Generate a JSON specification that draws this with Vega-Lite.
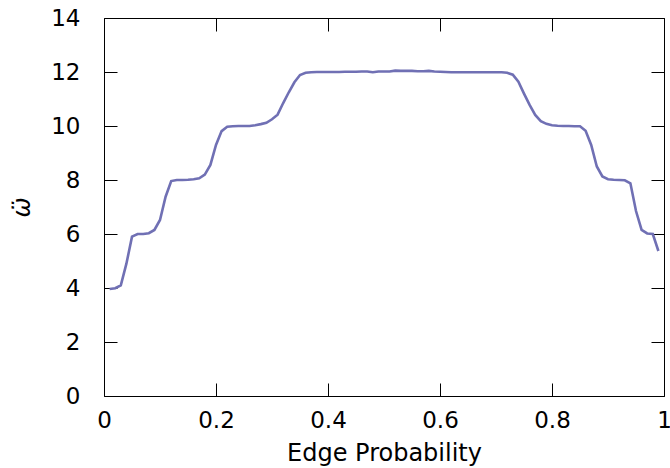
{
  "$schema": "https://vega.github.io/schema/vega-lite/v6.json",
  "width": 560,
  "height": 378,
  "autosize": "none",
  "padding": {"left": 104, "top": 18, "right": 6, "bottom": 72},
  "background": "white",
  "config": {
    "view": {"stroke": null},
    "axis": {
      "labelFont": "DejaVu Sans",
      "labelFontSize": 23,
      "labelColor": "black",
      "titleFont": "DejaVu Sans",
      "titleFontSize": 24,
      "titleFontWeight": "normal",
      "titleColor": "black",
      "domainColor": "black",
      "domainWidth": 1,
      "tickColor": "black",
      "tickWidth": 1,
      "tickSize": -13,
      "grid": false
    }
  },
  "data": {
    "values": [
      {"p": 0.01, "w": 3.96}, {"p": 0.02, "w": 3.99}, {"p": 0.03, "w": 4.1}, {"p": 0.04, "w": 4.9},
      {"p": 0.05, "w": 5.9}, {"p": 0.06, "w": 6.0}, {"p": 0.07, "w": 6.0}, {"p": 0.08, "w": 6.03},
      {"p": 0.09, "w": 6.15}, {"p": 0.10, "w": 6.52}, {"p": 0.11, "w": 7.38}, {"p": 0.12, "w": 7.96},
      {"p": 0.13, "w": 8.0}, {"p": 0.14, "w": 8.0}, {"p": 0.15, "w": 8.01}, {"p": 0.16, "w": 8.03},
      {"p": 0.17, "w": 8.06}, {"p": 0.18, "w": 8.2}, {"p": 0.19, "w": 8.56}, {"p": 0.20, "w": 9.3},
      {"p": 0.21, "w": 9.81}, {"p": 0.22, "w": 9.97}, {"p": 0.23, "w": 9.99}, {"p": 0.24, "w": 10.0},
      {"p": 0.25, "w": 10.0}, {"p": 0.26, "w": 10.0}, {"p": 0.27, "w": 10.03}, {"p": 0.28, "w": 10.07},
      {"p": 0.29, "w": 10.12}, {"p": 0.30, "w": 10.25}, {"p": 0.31, "w": 10.42}, {"p": 0.32, "w": 10.85},
      {"p": 0.33, "w": 11.25}, {"p": 0.34, "w": 11.62}, {"p": 0.35, "w": 11.89}, {"p": 0.36, "w": 11.97},
      {"p": 0.37, "w": 11.99}, {"p": 0.38, "w": 12.0}, {"p": 0.39, "w": 12.0}, {"p": 0.40, "w": 12.0},
      {"p": 0.41, "w": 12.0}, {"p": 0.42, "w": 12.0}, {"p": 0.43, "w": 12.01}, {"p": 0.44, "w": 12.01},
      {"p": 0.45, "w": 12.01}, {"p": 0.46, "w": 12.02}, {"p": 0.47, "w": 12.02}, {"p": 0.48, "w": 11.99},
      {"p": 0.49, "w": 12.02}, {"p": 0.50, "w": 12.02}, {"p": 0.51, "w": 12.02}, {"p": 0.52, "w": 12.05},
      {"p": 0.53, "w": 12.04}, {"p": 0.54, "w": 12.04}, {"p": 0.55, "w": 12.04}, {"p": 0.56, "w": 12.03},
      {"p": 0.57, "w": 12.03}, {"p": 0.58, "w": 12.04}, {"p": 0.59, "w": 12.02}, {"p": 0.60, "w": 12.01},
      {"p": 0.61, "w": 12.0}, {"p": 0.62, "w": 11.99}, {"p": 0.63, "w": 11.99}, {"p": 0.64, "w": 11.99},
      {"p": 0.65, "w": 11.99}, {"p": 0.66, "w": 11.99}, {"p": 0.67, "w": 11.99}, {"p": 0.68, "w": 11.99},
      {"p": 0.69, "w": 11.99}, {"p": 0.70, "w": 11.99}, {"p": 0.71, "w": 11.99}, {"p": 0.72, "w": 11.97},
      {"p": 0.73, "w": 11.9}, {"p": 0.74, "w": 11.64}, {"p": 0.75, "w": 11.2}, {"p": 0.76, "w": 10.78},
      {"p": 0.77, "w": 10.41}, {"p": 0.78, "w": 10.18}, {"p": 0.79, "w": 10.08}, {"p": 0.80, "w": 10.03},
      {"p": 0.81, "w": 10.01}, {"p": 0.82, "w": 10.0}, {"p": 0.83, "w": 10.0}, {"p": 0.84, "w": 9.99},
      {"p": 0.85, "w": 9.99}, {"p": 0.86, "w": 9.82}, {"p": 0.87, "w": 9.3}, {"p": 0.88, "w": 8.5},
      {"p": 0.89, "w": 8.13}, {"p": 0.90, "w": 8.03}, {"p": 0.91, "w": 8.01}, {"p": 0.92, "w": 8.0},
      {"p": 0.93, "w": 7.99}, {"p": 0.94, "w": 7.88}, {"p": 0.95, "w": 6.85}, {"p": 0.96, "w": 6.15},
      {"p": 0.97, "w": 6.02}, {"p": 0.98, "w": 6.0}, {"p": 0.99, "w": 5.37}
    ]
  },
  "layer": [
    {
      "mark": {"type": "line", "color": "#7070b4", "strokeWidth": 2.6},
      "encoding": {
        "x": {
          "field": "p", "type": "quantitative",
          "scale": {"domain": [0, 1], "nice": false, "zero": false},
          "axis": {"orient": "bottom", "values": [0, 0.2, 0.4, 0.6, 0.8, 1], "format": "~g", "labelPadding": 26, "title": "Edge Probability", "titlePadding": 9, "labelFlush": false}
        },
        "y": {
          "field": "w", "type": "quantitative",
          "scale": {"domain": [0, 14], "nice": false},
          "axis": {"orient": "left", "values": [0, 2, 4, 6, 8, 10, 12, 14], "labelPadding": 37, "title": "ω̈", "titleFontStyle": "italic", "titlePadding": 16, "labelFlush": false}
        }
      }
    },
    {
      "mark": {"type": "line", "strokeOpacity": 0},
      "encoding": {
        "x": {
          "field": "p", "type": "quantitative",
          "scale": {"domain": [0, 1], "nice": false, "zero": false},
          "axis": {"orient": "top", "values": [0, 0.2, 0.4, 0.6, 0.8, 1], "labels": false, "title": null}
        },
        "y": {
          "field": "w", "type": "quantitative",
          "scale": {"domain": [0, 14], "nice": false},
          "axis": {"orient": "right", "values": [0, 2, 4, 6, 8, 10, 12, 14], "labels": false, "title": null}
        }
      }
    }
  ],
  "resolve": {"axis": {"x": "independent", "y": "independent"}}
}
